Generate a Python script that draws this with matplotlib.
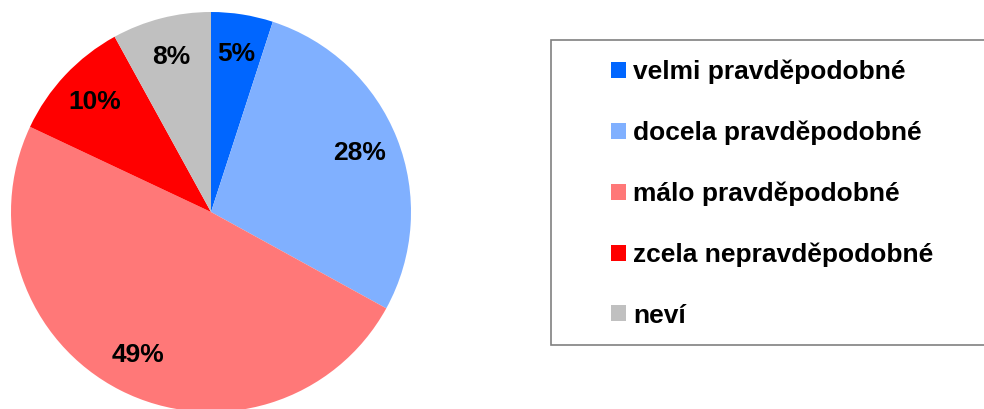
import matplotlib.pyplot as plt
from matplotlib.patches import Rectangle, Patch

# Data
categories = ["velmi pravděpodobné", "docela pravděpodobné", "málo pravděpodobné",
              "zcela nepravděpodobné", "neví"]
shares = [5, 28, 49, 10, 8]
colors = ["#0066FF", "#80B0FF", "#FF7878", "#FF0000", "#C0C0C0"]

plt.rcParams['font.family'] = ['Liberation Sans', 'DejaVu Sans']

fig = plt.figure(figsize=(9.84, 4.09), dpi=100)
W, H = 984, 409

# Pie axes: centre (211, 212) px, radius 200 px
ax = fig.add_axes([11 / W, (H - 412) / H, 400 / W, 400 / H])
wedges, texts, autotexts = ax.pie(shares, colors=colors, startangle=90, counterclock=False,
                                  autopct="%d%%", pctdistance=0.80, radius=1.0,
                                  wedgeprops=dict(linewidth=0),
                                  textprops=dict(fontsize=19, fontweight="bold", color="black"))
ax.set_xlim(-1, 1)
ax.set_ylim(-1, 1)
ax.set_aspect("equal")
ax.axis("off")

# Legend frame
fig.patches.append(Rectangle((551 / W, (H - 345) / H), 440 / W, 305 / H,
                             transform=fig.transFigure, facecolor="white",
                             edgecolor="#808080", linewidth=1.2, zorder=0))

handles = [Patch(facecolor=c, edgecolor="none") for c in colors]
leg = fig.legend(handles, categories, loc="upper left",
                 bbox_to_anchor=(611 / W, (H - 60) / H), frameon=False,
                 prop=dict(size=19, weight="bold"),
                 handlelength=0.55, handleheight=0.55, handletextpad=0.28,
                 labelspacing=1.38, borderpad=0, borderaxespad=0)

fig.savefig("out.png", dpi=100)
